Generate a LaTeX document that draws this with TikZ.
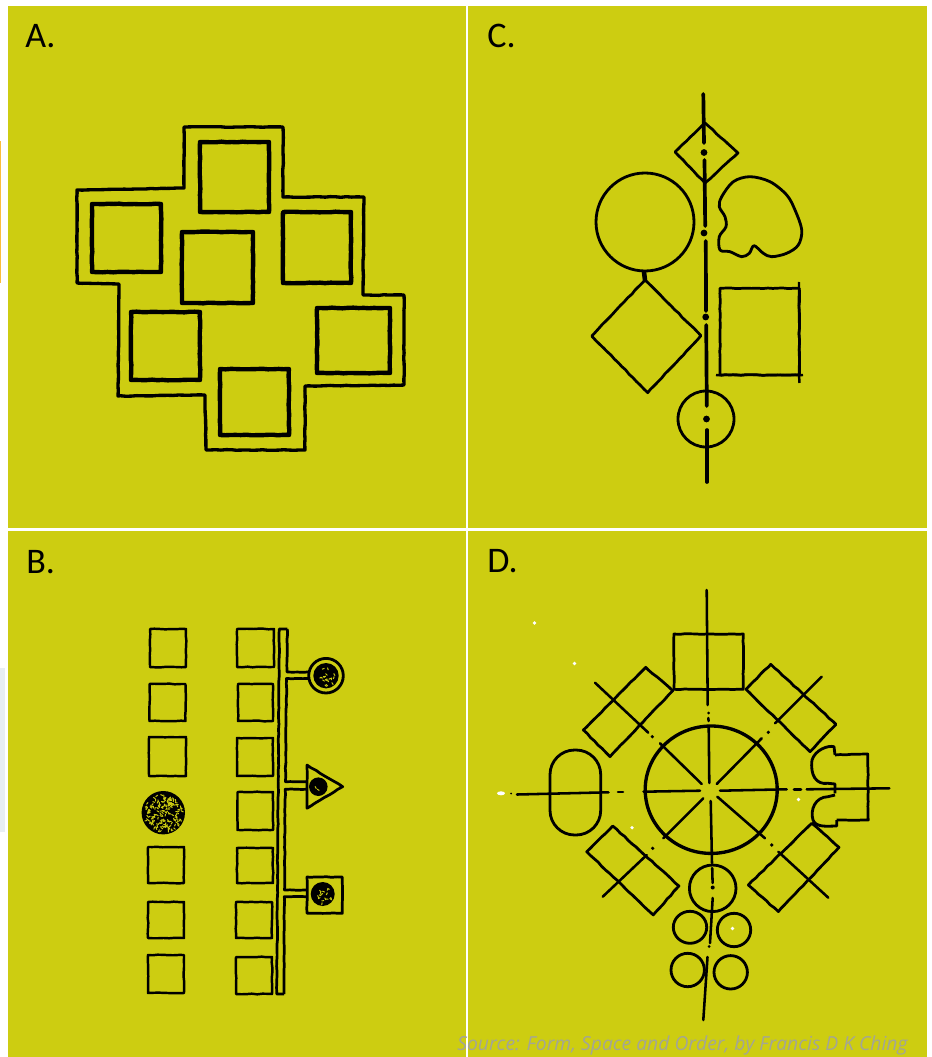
\documentclass[tikz,border=0pt]{standalone}
\usepackage{fontspec}
\setmainfont{Carlito}
\newfontfamily\sourcefont{Open Sans}
\usetikzlibrary{decorations.pathmorphing}

% gefleckte Tusche in den schwarzen Kreisen
\newcommand{\inkspots}[4]{%
	\foreach \i in {1,...,#4} {
		\pgfmathsetmacro{\spota}{rnd*360}
		\pgfmathsetmacro{\spotr}{sqrt(rnd)*#3*0.72}
		\pgfmathsetmacro{\spotb}{rnd*180}
		\draw[speck] ({#1+\spotr*cos(\spota)},{#2+\spotr*sin(\spota)}) -- ++(\spotb:2.6);
	}
}

\tikzset{
	panel/.style={fill=panelyellow},
	ink/.style={draw=black, line width=1.55pt, line join=round, decorate,
		decoration={random steps, segment length=3pt, amplitude=0.2pt}},
	inkthin/.style={ink, line width=1.4pt},
	inkheavy/.style={ink, line width=2.5pt},
	inkouter/.style={ink, line width=1.9pt},
	inkplain/.style={draw=black, line width=1.6pt, line join=round},
	axisline/.style={draw=black, line width=2.1pt, line cap=round},
	axisthin/.style={draw=black, line width=1.45pt, line cap=round},
	speck/.style={draw=panelyellow, line width=0.55pt},
	heading/.style={anchor=base west, font=\fontsize{20.5}{22}\selectfont, text=black, inner sep=0pt},
}

\begin{document}
\begin{tikzpicture}[x=0.02cm, y=-0.02cm]
	\pgfmathsetseed{41}
	% Farben
	\definecolor{panelyellow}{RGB}{205, 205, 17}
	\definecolor{sourcegrey}{RGB}{163, 165, 150}
	\definecolor{edgeorange}{RGB}{250, 190, 60}
	\definecolor{edgeblue}{RGB}{232, 238, 242}

	% Gesamtgroesse
	\useasboundingbox (0,0) rectangle (932,1057);
	\fill[white] (0,0) rectangle (932,1057);

	% Reste am linken Rand
	\fill[edgeorange] (0,141) rectangle (1,283);
	\fill[edgeblue] (0,668) rectangle (5,832);

	% Hintergrundflaechen
	\fill[panel] (7.5,6) rectangle (466,528);    % A
	\fill[panel] (468,6) rectangle (927,528);    % C
	\fill[panel] (7.5,531) rectangle (466,1057); % B
	\fill[panel] (468,531) rectangle (927,1057); % D

	% Ueberschriften
	\node[heading] (labelA) at (25,48) {A.};
	\node[heading] (labelC) at (487,48) {C.};
	\node[heading] (labelB) at (26,573) {B.};
	\node[heading] (labelD) at (487,572) {D.};

	% ---------- A: Gruppe von Quadraten ----------
	\draw[inkouter] (184,127) -- (283,127) -- (283,197) -- (364,197) -- (363,295)
		-- (404,295) -- (404,385) -- (305,386) -- (305,450) -- (206,450) -- (205,395)
		-- (118,396) -- (119,284) -- (77,283) -- (77,190) -- (184,188) -- cycle;
	\foreach \xa/\ya/\xb/\yb in {200/142/269/212, 92/204/161/272, 182/232/253/303,
		283/212/351/283, 131/312/200/380, 317/308/390/373, 220/369/289/435}
		\draw[inkheavy] (\xa,\ya) rectangle (\xb,\yb);

	% ---------- C: Achse mit Formen ----------
	\draw[axisline] (703.3,94) -- (704,143);
	\draw[axisline] (704.5,160) -- (705.2,226);
	\draw[axisline] (705.8,241) -- (706,311);
	\draw[axisline] (706.2,325) -- (706.8,406);
	\draw[axisline] (707,430) -- (707,482);
	\foreach \xa/\ya in {704/152.5, 704/233, 705.7/317, 706.5/419}
		\fill (\xa,\ya) circle [radius=3.4];
	% Formen
	\draw[ink] (705,123) -- (738,153) -- (705,183) -- (675,152) -- cycle;
	\draw[inkplain] (645,222) circle [radius=49];
	\draw[inkplain] plot[smooth cycle, tension=0.55] coordinates {(721.7,196.7) (733.3,181.7)
		(750,176.7) (770,181.7) (786.7,195) (795,210) (801.7,230) (798.3,245) (786.7,253.3)
		(771.7,256.7) (763.3,253.3) (754,245.7) (749.3,253.3) (741.7,256.7) (730,251.7)
		(720,250) (719.3,236.7) (726,226.7) (725,216.7) (719.3,206.7)};
	\draw[ink] (645,280) -- (701,335.7) -- (647.7,392.7) -- (591.7,336) -- cycle;
	\draw[ink, line width=2.6pt] (644,272) -- (645,280);
	\draw[ink] (720,288.3) rectangle (799.3,375);
	\draw[inkthin] (716,375) -- (803,375);
	\draw[inkthin] (799,282) -- (799.5,383);
	\draw[inkplain] (706,419) circle [radius=28];

	% ---------- B: Reihen und Gang ----------
	\foreach \xa/\ya/\xb/\yb in {150/629/186/667, 149.5/684/185.5/721, 149/737/186/776,
		148/847/184/883, 148/902/184/938, 148/955/184/993,
		237/629/274/667, 238/684/273/721, 237/738/273/776, 237.5/792/273/830,
		237/848/273/883, 236/902/272/938, 236/957/272/994}
		\draw[inkthin] (\xa,\ya) rectangle (\xb,\yb);
	% grosser Kreis
	\fill (163.3,812.7) circle [radius=21.7];
	\inkspots{163.3}{812.7}{26}{170}
	% Gang
	\draw[ink] (287.3,629) -- (279.3,629) -- (276.7,994) -- (284,994);
	\draw[ink] (287.3,629) -- (287,672) -- (308,672);
	\draw[ink] (308,678.5) -- (286.5,678.5) -- (285.5,781.7) -- (307,781.7);
	\draw[ink] (307,789.3) -- (285.2,789.3) -- (284.5,890) -- (307,890);
	\draw[ink] (307,896.7) -- (284.3,896.7) -- (284,994);
	% runde Einheit
	\draw[inkplain] (326,675.7) circle [radius=17.3];
	\fill (326,675.7) circle [radius=12.7];
	\inkspots{326}{675.7}{12.7}{18}
	% dreieckige Einheit
	\draw[ink] (307,765) -- (342.7,786.7) -- (307,808.3) -- cycle;
	\fill (318.3,786.7) circle [radius=9.3];
	\inkspots{318.3}{786.7}{5}{2}
	% quadratische Einheit
	\draw[ink] (307,877) rectangle (342.3,913.3);
	\fill (322.7,894) circle [radius=12];
	\inkspots{322.7}{894}{12}{16}

	% ---------- D: Kreis mit radialen Einheiten ----------
	\draw[inkplain, line width=1.9pt] (711.2,789.7) ellipse [x radius=66, y radius=63.7];
	% vertikale Achse
	\draw[axisthin] (706.7,590) -- (707.7,705);
	\draw[axisthin] (708.3,718) -- (708.6,721);
	\draw[axisthin] (708.7,727) -- (709.3,783);
	\draw[axisthin] (710.7,801) -- (712,863);
	\draw[axisthin] (712.2,868) -- (712.6,883);
	\draw[axisthin] (712.7,898) -- (710,943);
	\draw[axisthin] (707.5,957) -- (703.3,1020);
	\fill (712.7,887.5) circle [radius=2];
	\fill (708.7,713) circle [radius=1.5];
	\fill (709,946.5) circle [radius=1.5];
	% horizontale Achse
	\draw[axisthin] (517,794.5) -- (608.5,792.3);
	\draw[axisthin] (618,792.2) -- (623,792.2);
	\draw[axisthin] (643.5,791.7) -- (700,790.7);
	\draw[axisthin] (720,790.7) -- (786.7,789.3);
	\draw[axisthin] (794,789.3) -- (801,789.3);
	\draw[axisthin] (806.7,789.3) -- (889.3,788.3);
	\fill[white] (501,793.3) ellipse [x radius=4, y radius=2];
	\fill (511,793.5) circle [radius=1];
	% Diagonalen
	\draw[axisthin] (595,682.7) -- (648.3,732.7);
	\draw[axisthin] (660,743.3) -- (701.7,784);
	\draw[axisthin] (821.7,676.7) -- (775,723.3);
	\draw[axisthin] (761.7,738.3) -- (716.7,784);
	\draw[axisthin] (703.3,798.3) -- (663.3,838.3);
	\draw[axisthin] (646.7,855) -- (602.7,896.7);
	\draw[axisthin] (717.3,796.7) -- (765,838.3);
	\draw[axisthin] (778.3,851.7) -- (828.3,897.7);
	\foreach \xa/\ya in {652.3/736.7, 768.3/732.3, 652.7/848.3, 771.7/845}
		\fill (\xa,\ya) circle [radius=1.8];
	% Rechtecke
	\draw[ink] (674,634) rectangle (743.3,689.3);
	\draw[ink] (746,689.3) -- (770.7,664.3) -- (836,724.3) -- (810,751.7) -- cycle;
	\draw[ink] (672.7,690.7) -- (645.7,667.3) -- (583.3,730) -- (610,756.7) -- cycle;
	\draw[ink] (612.7,826) -- (586.7,851.7) -- (653.3,915) -- (679,886) -- cycle;
	\draw[ink] (811.7,823.3) -- (839,847.3) -- (778.3,911.7) -- (748.3,885) -- cycle;
	% Oval links
	\draw[inkplain, rounded corners=14pt] (550,750) rectangle (600.7,835);
	% Form rechts
	\draw[inkplain] (835,755) -- (834,746.7) .. controls (828,745) and (815,750) .. (812,760)
		.. controls (810,775) and (816,785) .. (828,783.3) -- (835,784) -- (835,793.3);
	\draw[inkplain] (835,795) -- (828,796.7) .. controls (815,797) and (810,810) .. (813,820)
		.. controls (816,828) and (828,826) .. (836.7,826) -- (836.7,820);
	\draw[ink] (835,755) -- (867.7,754) -- (868.3,820) -- (836.7,820);
	% kleine Kreise
	\draw[inkplain] (712.7,888.3) circle [radius=23.3];
	\draw[inkplain] (690,927.3) ellipse [x radius=16.7, y radius=16];
	\draw[inkplain] (734,930) circle [radius=16.7];
	\draw[inkplain] (687.7,970) circle [radius=16.7];
	\draw[inkplain] (730.7,972.3) circle [radius=16.7];
	% weisse Flecken
	\foreach \xa/\ya in {534.5/623, 574.5/663.5, 632/827.7, 732.5/928.5, 798.5/799.5}
		\fill[white] (\xa,\ya) circle [radius=1.8];

	% Quelle
	\node[anchor=base west, inner sep=0pt, text=sourcegrey,
		font=\sourcefont\itshape\fontsize{11}{14}\selectfont] (source) at (457,1050)
		{Source: Form, Space and Order, by Francis D K Ching};
\end{tikzpicture}
\end{document}
